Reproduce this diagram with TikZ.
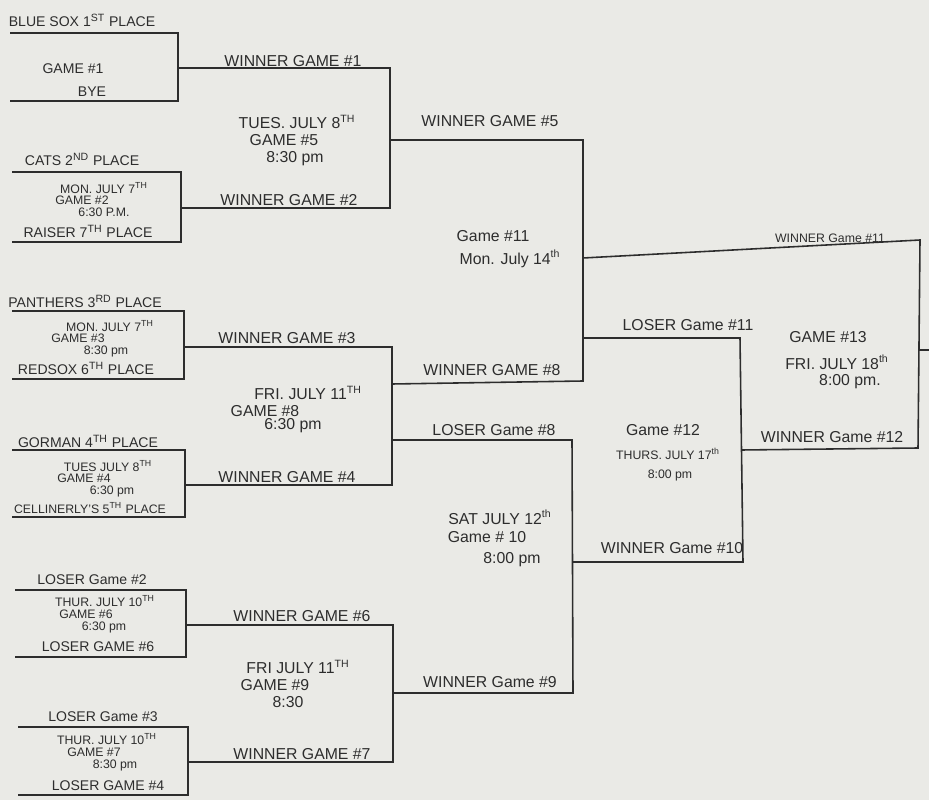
\documentclass[tikz,border=0pt]{standalone}
\usepackage{fontspec}
\setmainfont{Liberation Sans}
\definecolor{paper}{RGB}{234,234,230}
\definecolor{pencil}{RGB}{45,45,45}
\tikzset{
  hand/.style={font=\fontsize{9}{10}\selectfont, text=pencil, inner sep=0pt},
  team/.style={font=\fontsize{8}{9}\selectfont, text=pencil, inner sep=0pt},
  tiny/.style={font=\fontsize{7}{8}\selectfont, text=pencil, inner sep=0pt},
  bline/.style={draw=pencil, line width=0.9pt}
}
\begin{document}
\begin{tikzpicture}[x=0.02cm,y=-0.02cm]

\useasboundingbox (0,0) rectangle (929,800);
\fill[paper] (0,0) rectangle (929,800);

\coordinate (g1tl) at (10,33);   \coordinate (g1tr) at (178,33);
\coordinate (g1bl) at (10,101);  \coordinate (g1br) at (178,101);
\coordinate (g1out) at (178,68);
\draw[bline] (g1tl) -- (g1tr) -- (g1br) -- (g1bl);
\node[team] at (82,20) {BLUE SOX 1\textsuperscript{ST} PLACE};
\node[team] at (73,69) {GAME \#1};
\node[team] at (92,92) {BYE};

\coordinate (g2tl) at (12,172);  \coordinate (g2tr) at (181,172);
\coordinate (g2bl) at (12,242);  \coordinate (g2br) at (181,242);
\coordinate (g2out) at (181,208);
\draw[bline] (g2tl) -- (g2tr) -- (g2br) -- (g2bl);
\node[team] at (82,159) {CATS 2\textsuperscript{ND} PLACE};
\node[tiny] at (104,188) {MON. JULY 7\textsuperscript{TH}};
\node[tiny] at (82,200) {GAME \#2};
\node[tiny] at (104,212) {6:30 P.M.};
\node[team] at (88,231) {RAISER 7\textsuperscript{TH} PLACE};

\coordinate (g3tl) at (12,311);  \coordinate (g3tr) at (184,311);
\coordinate (g3bl) at (12,379);  \coordinate (g3br) at (184,379);
\coordinate (g3out) at (184,347);
\draw[bline] (g3tl) -- (g3tr) -- (g3br) -- (g3bl);
\node[team] at (85,301) {PANTHERS 3\textsuperscript{RD} PLACE};
\node[tiny] at (110,326) {MON. JULY 7\textsuperscript{TH}};
\node[tiny] at (78,338) {GAME \#3};
\node[tiny] at (106,351) {8:30 pm};
\node[team] at (86,368) {REDSOX 6\textsuperscript{TH} PLACE};

\coordinate (g4tl) at (12,450);  \coordinate (g4tr) at (185,450);
\coordinate (g4bl) at (12,517);  \coordinate (g4br) at (185,517);
\coordinate (g4out) at (185,485);
\draw[bline] (g4tl) -- (g4tr) -- (g4br) -- (g4bl);
\node[team] at (88,441) {GORMAN 4\textsuperscript{TH} PLACE};
\node[tiny] at (108,466) {TUES JULY 8\textsuperscript{TH}};
\node[tiny] at (84,478) {GAME \#4};
\node[tiny] at (112,491) {6:30 pm};
\node[tiny] at (90,508) {CELLINERLY'S 5\textsuperscript{TH} PLACE};

\coordinate (g6tl) at (15,590);  \coordinate (g6tr) at (186,590);
\coordinate (g6bl) at (15,657);  \coordinate (g6br) at (186,657);
\coordinate (g6out) at (186,625);
\draw[bline] (g6tl) -- (g6tr) -- (g6br) -- (g6bl);
\node[team] at (92,580) {LOSER Game \#2};
\node[tiny] at (105,601) {THUR. JULY 10\textsuperscript{TH}};
\node[tiny] at (86,614) {GAME \#6};
\node[tiny] at (104,627) {6:30 pm};
\node[team] at (98,647) {LOSER GAME \#6};

\coordinate (g7tl) at (18,727);  \coordinate (g7tr) at (188,727);
\coordinate (g7bl) at (18,795);  \coordinate (g7br) at (188,795);
\coordinate (g7out) at (188,762);
\draw[bline] (g7tl) -- (g7tr) -- (g7br) -- (g7bl);
\node[team] at (103,717) {LOSER Game \#3};
\node[tiny] at (107,739) {THUR. JULY 10\textsuperscript{TH}};
\node[tiny] at (94,752) {GAME \#7};
\node[tiny] at (115,765) {8:30 pm};
\node[team] at (108,786) {LOSER GAME \#4};

\coordinate (g5t) at (390,68);   \coordinate (g5b) at (390,208);
\coordinate (g5out) at (390,140);
\draw[bline] (g1out) -- (g5t) -- (g5b) -- (g2out);
\node[hand] at (293,61) {WINNER GAME \#1};
\node[hand] at (289,200) {WINNER GAME \#2};
\node[hand] at (297,122) {TUES. JULY 8\textsuperscript{TH}};
\node[hand] at (284,140) {GAME \#5};
\node[hand] at (295,159) {8:30 pm};

\coordinate (g8t) at (392,347);  \coordinate (g8b) at (392,485);
\coordinate (g8win) at (392,384); \coordinate (g8lose) at (392,440);
\draw[bline] (g3out) -- (g8t) -- (g8b) -- (g4out);
\node[hand] at (287,338) {WINNER GAME \#3};
\node[hand] at (287,477) {WINNER GAME \#4};
\node[hand] at (308,393) {FRI. JULY 11\textsuperscript{TH}};
\node[hand] at (265,411) {GAME \#8};
\node[hand] at (293,426) {6:30 pm};

\coordinate (g9t) at (393,625);  \coordinate (g9b) at (393,762);
\coordinate (g9out) at (393,693);
\draw[bline] (g6out) -- (g9t) -- (g9b) -- (g7out);
\node[hand] at (302,616) {WINNER GAME \#6};
\node[hand] at (302,754) {WINNER GAME \#7};
\node[hand] at (298,667) {FRI JULY 11\textsuperscript{TH}};
\node[hand] at (275,685) {GAME \#9};
\node[hand] at (288,702) {8:30};

\coordinate (g11t) at (583,140); \coordinate (g11b) at (583,381);
\coordinate (g11win) at (583,258); \coordinate (g11lose) at (583,338);
\draw[bline] (g5out) -- (g11t) -- (g11b) -- (g8win);
\node[hand] at (490,121) {WINNER GAME \#5};
\node[hand] at (492,370) {WINNER GAME \#8};
\node[hand] at (493,236) {Game \#11};
\node[hand] at (510,259) {Mon. July 14\textsuperscript{th}};

\coordinate (g10t) at (572,440); \coordinate (g10b) at (573,693);
\coordinate (g10out) at (572,562);
\draw[bline] (g8lose) -- (g10t) -- (g10b) -- (g9out);
\node[hand] at (494,430) {LOSER Game \#8};
\node[hand] at (490,682) {WINNER Game \#9};
\node[hand] at (500,517) {SAT JULY 12\textsuperscript{th}};
\node[hand] at (487,537) {Game \# 10};
\node[hand] at (512,560) {8:00 pm};

\coordinate (g12t) at (740,338); \coordinate (g12b) at (743,562);
\coordinate (g12out) at (741,450);
\draw[bline] (g11lose) -- (g12t) -- (g12b) -- (g10out);
\node[hand] at (688,325) {LOSER Game \#11};
\node[hand] at (672,548) {WINNER Game \#10};
\node[hand] at (663,430) {Game \#12};
\node[tiny] at (668,454) {THURS. JULY 17\textsuperscript{th}};
\node[tiny] at (670,475) {8:00 pm};

\coordinate (g13t) at (920,240); \coordinate (g13b) at (918,448);
\coordinate (g13out) at (919,350); \coordinate (champ) at (929,350);
\draw[bline] (g11win) -- (g13t) -- (g13b) -- (g12out);
\draw[bline] (g13out) -- (champ);
\node[tiny] at (830,238) {WINNER Game \#11};
\node[hand] at (832,437) {WINNER Game \#12};
\node[hand] at (828,337) {GAME \#13};
\node[hand] at (837,362) {FRI. JULY 18\textsuperscript{th}};
\node[hand] at (850,382) {8:00 pm.};

\end{tikzpicture}
\end{document}
